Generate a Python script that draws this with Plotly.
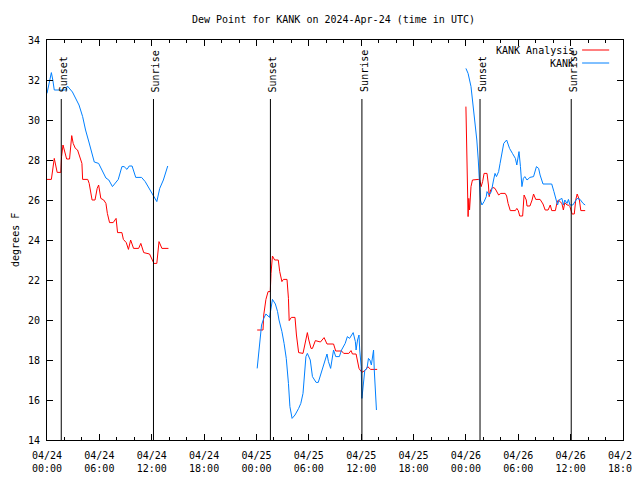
import plotly.graph_objects as go

# ---------------- data ----------------
DAYS = ["2024-04-24", "2024-04-25", "2024-04-26"]

# KANK Analysis (red)
ana_t1 = ["00:00","00:30","00:50","01:10","01:35","01:40","01:50","02:05","02:15","02:35","02:50","03:00",
          "03:15","03:30","03:40","04:00","04:05","04:40","04:50","05:00","05:10","05:30","05:45","05:55",
          "06:10","06:30","06:45","06:55","07:10","07:35","07:55","08:05","08:35","08:45","09:05","09:20",
          "09:35","09:55","10:30","10:45","11:05","11:45","12:05","12:15","12:35","12:50","13:10","13:55"]
ana_v1 = [27.03,27.03,28.08,27.38,27.38,28.17,28.75,28.33,28.05,28.05,29.22,28.83,
          28.58,28.5,28.25,27.83,27.03,27.03,26.83,26.5,26.0,26.0,26.58,26.75,
          26.08,26.0,25.83,25.33,24.87,24.87,25.08,24.37,24.37,24.03,23.87,23.53,
          24.0,23.58,23.58,23.83,23.37,23.3,23.0,22.83,22.83,23.92,23.58,23.58]

ana_t2 = ["00:05","00:45","00:50","01:05","01:20","01:35","01:40","01:50","02:05","02:30","02:40","02:55",
          "03:05","03:30","03:40","03:45","04:00","04:25","04:35","04:50","05:20","05:40","05:50","06:00",
          "06:15","06:25","06:45","07:20","07:45","08:05","08:50","09:05","09:45","10:00","10:35","10:50",
          "11:00","11:25","11:35","11:45","12:00","12:10","12:30","12:45","13:05","13:50"]
ana_v2 = [19.5,19.5,20.25,21.03,21.42,21.42,22.33,23.2,23.0,23.0,22.42,21.92,
          22.03,22.03,21.08,19.97,20.13,20.13,19.25,18.37,18.33,19.0,19.37,19.0,
          18.58,18.58,18.97,18.9,19.12,18.8,18.8,18.45,18.45,18.33,18.33,18.47,
          18.3,18.3,17.92,17.58,17.42,17.4,17.5,17.67,17.53,17.53]

ana_t3 = ["00:00","00:05","00:10","00:15","00:20","00:25","00:35","00:45","01:25","01:35","01:45","01:55",
          "02:05","02:25","02:35","02:40","02:50","03:05","03:20","03:30","03:45","04:00","04:30","04:40",
          "04:50","05:05","05:40","05:50","06:00","06:10","06:30","06:40","06:55","07:00","07:20","07:35",
          "07:45","08:00","08:30","08:50","09:05","09:25","09:40","09:50","10:15","10:25","10:35","11:00",
          "11:10","11:20","11:35","11:45","11:55","12:10","12:25","12:35","12:45","13:00","13:10","13:40"]
ana_v3 = [30.67,28.5,26.0,25.17,26.08,25.5,26.67,27.0,27.03,27.0,26.67,26.92,
          27.33,27.33,26.75,26.17,26.5,26.63,26.58,26.47,26.25,26.33,26.33,26.2,
          25.83,25.47,25.47,25.58,25.47,25.2,25.2,26.25,26.0,25.7,25.7,26.0,
          26.3,26.03,26.03,25.8,25.5,25.5,25.75,25.47,25.47,25.83,26.0,25.83,
          25.5,25.87,25.75,25.75,25.67,25.3,25.3,26.0,26.3,26.0,25.47,25.47]

# KANK observations (blue)
obs_t1 = ["00:00","00:30","00:40","00:50","02:10","02:20","02:55","03:15","03:40","04:05","04:25","04:50",
          "05:10","05:25","05:55","06:20","06:45","07:05","07:30","08:10","08:35","08:50","09:10","09:25",
          "09:45","10:10","10:50","11:15","11:50","12:10","12:35","12:55","13:20","13:50"]
obs_v1 = [31.33,32.37,32.0,31.5,31.5,31.7,31.4,31.08,30.75,30.17,29.5,28.85,
          28.35,27.9,27.83,27.5,27.1,27.0,26.67,27.03,27.67,27.67,27.53,27.7,
          27.7,27.13,27.13,26.92,26.5,26.2,25.92,26.58,27.0,27.7]

obs_t2 = ["00:05","00:15","00:25","00:35","00:50","01:05","01:30","01:40","01:50","02:10","02:25","02:35",
          "02:55","03:10","03:25","03:40","03:50","04:05","04:25","04:50","05:05","05:20","05:30","05:40",
          "05:50","06:10","06:25","06:50","07:05","07:25","07:40","08:05","08:15","08:30","08:50","09:05",
          "09:30","09:45","10:10","10:25","10:40","10:55","11:05","11:20","11:25","11:35","11:45","11:50",
          "12:00","12:05","12:15","12:25","12:40","12:50","13:00","13:10","13:20","13:25","13:30","13:35","13:45"]
obs_v2 = [17.58,18.33,19.17,19.75,20.08,20.3,20.13,20.58,21.03,20.8,20.42,20.0,
          19.42,18.83,18.08,16.83,15.67,15.08,15.25,15.58,15.83,16.33,17.33,18.17,
          18.33,18.0,17.17,16.88,16.88,17.33,17.75,18.3,17.92,17.58,18.5,18.17,
          18.17,18.5,18.83,19.17,19.08,19.25,19.37,18.92,18.5,19.0,19.25,18.5,
          17.67,16.08,16.83,17.5,17.58,18.08,18.0,17.75,18.25,18.5,17.5,16.92,15.5]

obs_t3 = ["00:00","00:15","00:35","00:50","01:05","01:15","01:25","01:30","01:40","01:50","02:05","02:20",
          "02:25","02:40","02:55","03:10","03:20","03:30","03:45","03:55","04:05","04:20","04:40","05:00",
          "05:20","05:40","05:50","06:00","06:05","06:15","06:25","06:35","06:45","07:00","07:20","07:45",
          "08:05","08:20","08:30","08:50","09:50","10:05","10:20","10:30","10:40","11:00","11:10","11:20",
          "11:35","11:45","11:55","12:15","12:30","12:45","13:05","13:25","13:40"]
obs_v3 = [32.58,32.33,31.67,30.67,30.0,29.0,28.0,27.0,26.0,25.75,25.92,26.17,
          26.42,26.25,26.42,27.0,27.33,27.17,27.42,27.83,28.33,28.83,29.0,28.58,
          28.33,28.08,27.75,28.25,28.42,27.67,26.67,27.08,27.17,27.0,27.13,27.17,
          27.67,27.58,27.25,26.8,26.8,26.42,26.0,25.75,26.0,26.08,25.75,26.0,
          25.83,26.03,25.75,25.75,25.92,26.08,26.03,25.83,25.75]

# Sun events
event_names = ["Sunset", "Sunrise", "Sunset", "Sunrise", "Sunset", "Sunrise"]
event_times = ["2024-04-24 01:38", "2024-04-24 12:12", "2024-04-25 01:36",
               "2024-04-25 12:05", "2024-04-26 01:37", "2024-04-26 12:04"]

Y_TICKS = [14, 16, 18, 20, 22, 24, 26, 28, 30, 32, 34]

FONT = "DejaVu Sans Mono"
RED = "#ff0000"
BLUE = "#0080ff"


def join_days(times_per_day, vals_per_day):
    xs, ys = [], []
    for i, (day, ts, vs) in enumerate(zip(DAYS, times_per_day, vals_per_day)):
        if i > 0:
            xs.append(None)
            ys.append(None)
        xs += [f"{day} {t}" for t in ts]
        ys += list(vs)
    return xs, ys


ax, ay = join_days([ana_t1, ana_t2, ana_t3], [ana_v1, ana_v2, ana_v3])
ox, oy = join_days([obs_t1, obs_t2, obs_t3], [obs_v1, obs_v2, obs_v3])

fig = go.Figure()
fig.add_trace(go.Scatter(x=ax, y=ay, mode="lines", line=dict(color=RED, width=1),
                         name="KANK Analysis", connectgaps=False, showlegend=False))
fig.add_trace(go.Scatter(x=ox, y=oy, mode="lines", line=dict(color=BLUE, width=1),
                         name="KANK", connectgaps=False, showlegend=False))

shapes = []
annotations = []
for name, t in zip(event_names, event_times):
    shapes.append(dict(type="line", xref="x", yref="y", x0=t, x1=t, y0=14, y1=31.05,
                       line=dict(color="black", width=1)))
    annotations.append(dict(x=t, y=31.3, xref="x", yref="y", text=name, textangle=-90,
                            showarrow=False, xanchor="center", yanchor="bottom", xshift=2,
                            font=dict(family=FONT, size=10, color="black")))

# legend (gnuplot style: text then sample)
leg = [("KANK Analysis", RED, 0.975), ("KANK", BLUE, 0.9425)]
for txt, col, yy in leg:
    annotations.append(dict(x=0.919, y=yy, xref="paper", yref="paper", text=txt, showarrow=False,
                            xanchor="right", yanchor="middle",
                            font=dict(family=FONT, size=10, color="black")))
    shapes.append(dict(type="line", xref="paper", yref="paper", x0=0.929, x1=0.976, y0=yy, y1=yy,
                       line=dict(color=col, width=1)))

annotations.append(dict(x=0.497, y=1.05, xref="paper", yref="paper",
                        text="Dew Point for KANK on 2024-Apr-24 (time in UTC)", showarrow=False,
                        xanchor="center", yanchor="middle",
                        font=dict(family=FONT, size=10, color="black")))
annotations.append(dict(x=-0.0556, y=0.5, xref="paper", yref="paper", text="degrees F",
                        textangle=-90, showarrow=False, xanchor="center", yanchor="middle",
                        font=dict(family=FONT, size=10, color="black")))

H = 3600 * 1000
# page body adds an 8 px offset, so margins are compensated
fig.update_layout(
    width=632, height=472,
    margin=dict(l=39, r=17, t=32, b=40, autoexpand=False),
    paper_bgcolor="white", plot_bgcolor="white",
    font=dict(family=FONT, size=10, color="black"),
    shapes=shapes, annotations=annotations, showlegend=False,
    xaxis=dict(type="date", range=["2024-04-24 00:00", "2024-04-26 18:00"], automargin=False,
               tick0="2024-04-24 00:00", dtick=6 * H, tickformat="%m/%d<br>%H:%M",
               ticks="inside", ticklen=6, tickcolor="black", showline=True, linecolor="black",
               linewidth=1, mirror="allticks", showgrid=False, zeroline=False,
               ticklabelstandoff=6, ticklabeloverflow="allow",
               minor=dict(dtick=2 * H, tick0="2024-04-24 00:00", ticks="inside", ticklen=3,
                          tickcolor="black", showgrid=False),
               tickfont=dict(family=FONT, size=10)),
    yaxis=dict(range=[14, 34], tickvals=Y_TICKS, ticks="inside", ticklen=6, tickcolor="black",
               automargin=False, ticklabelstandoff=4,
               showline=True, linecolor="black", linewidth=1, mirror="allticks",
               showgrid=False, zeroline=False, tickfont=dict(family=FONT, size=10)),
)

fig.write_html("out.html")
